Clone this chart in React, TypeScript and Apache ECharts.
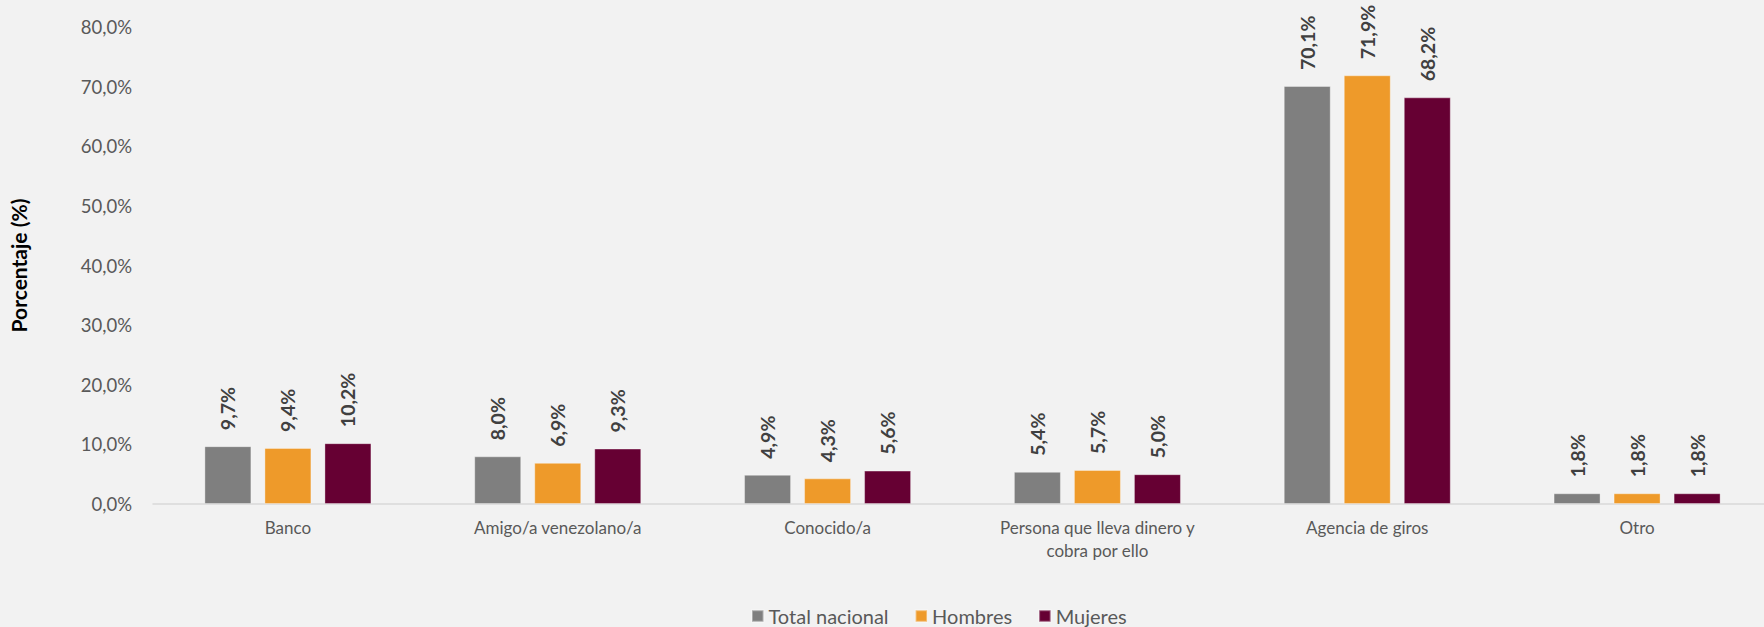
import React, { useEffect, useRef } from "react";
import * as echarts from "echarts";

const categories = [
  "Banco",
  "Amigo/a venezolano/a",
  "Conocido/a",
  "Persona que lleva dinero y\ncobra por ello",
  "Agencia de giros",
  "Otro",
];
const totalNacional = [9.7, 8.0, 4.9, 5.4, 70.1, 1.8];
const hombres = [9.4, 6.9, 4.3, 5.7, 71.9, 1.8];
const mujeres = [10.2, 9.3, 5.6, 5.0, 68.2, 1.8];
const seriesNames = ["Total nacional", "Hombres", "Mujeres"];
const colors = ["#7F7F7F", "#EE9A2A", "#660033"];

const fmt = (v: number) => v.toFixed(1).replace(".", ",") + "%";

export default function App() {
  const ref = useRef<HTMLDivElement>(null);
  useEffect(() => {
    document.body.style.margin = "0";
    document.body.style.overflow = "hidden";
    if (!ref.current) return;
    const chart = echarts.init(ref.current, undefined, { renderer: "svg" });
    const font = "Lato, 'Open Sans', sans-serif";
    const mk = (name: string, data: number[], color: string) => ({
      name,
      type: "bar",
      data,
      barWidth: 47,
      barGap: "27.7%",
      itemStyle: { color, borderColor: "rgba(255,255,255,0.35)", borderWidth: 1 },
      label: {
        show: true,
        position: "top",
        rotate: 90,
        align: "left",
        verticalAlign: "middle",
        distance: 16,
        formatter: (p: any) => fmt(p.value),
        fontFamily: font,
        fontWeight: "bold",
        fontSize: 19.5,
        color: "#404040",
      },
    });
    chart.setOption({
      animation: false,
      backgroundColor: "#F2F2F2",
      textStyle: { fontFamily: font },
      grid: { left: 152, right: 0, top: 27, bottom: 123 },
      legend: {
        left: 746,
        top: 601,
        itemWidth: 11.5,
        itemHeight: 11.5,
        itemGap: 26,
        icon: "rect",
        textStyle: { fontFamily: font, fontSize: 20, lineHeight: 20, color: "#595959" },
        data: seriesNames,
      },
      xAxis: {
        type: "category",
        data: categories,
        axisLine: { lineStyle: { color: "#D9D9D9", width: 1.5 } },
        axisTick: { show: false },
        axisLabel: {
          fontFamily: font,
          fontSize: 17,
          color: "#595959",
          margin: 12,
          lineHeight: 23,
          interval: 0,
        },
      },
      yAxis: {
        type: "value",
        min: 0,
        max: 80,
        interval: 10,
        name: "Porcentaje (%)",
        nameLocation: "middle",
        nameGap: 124,
        nameTextStyle: { fontFamily: font, fontSize: 21, fontWeight: "bold", color: "#000000" },
        splitLine: { show: false },
        axisLine: { show: false },
        axisTick: { show: false },
        axisLabel: {
          fontFamily: font,
          fontSize: 18.5,
          color: "#595959",
          margin: 21,
          formatter: (v: number) => fmt(v),
        },
      },
      series: [
        mk(seriesNames[0], totalNacional, colors[0]),
        mk(seriesNames[1], hombres, colors[1]),
        mk(seriesNames[2], mujeres, colors[2]),
      ],
    });
    return () => chart.dispose();
  }, []);
  return (
    <div
      ref={ref}
      style={{ position: "fixed", left: 0, top: 0, width: 1772, height: 627 }}
    />
  );
}
